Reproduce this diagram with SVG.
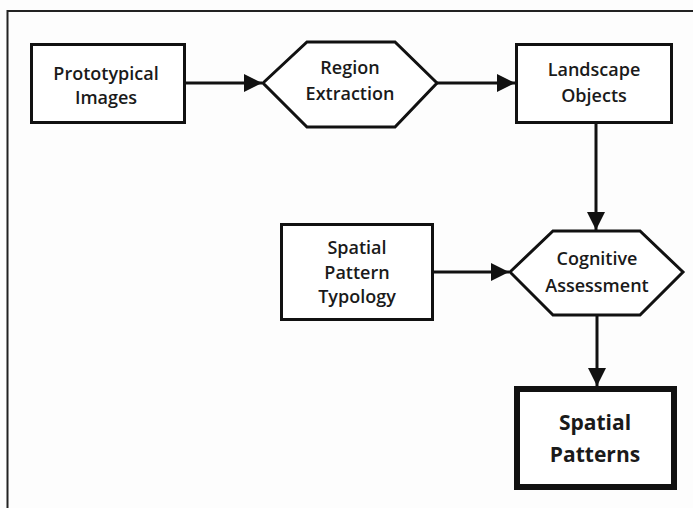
<svg xmlns="http://www.w3.org/2000/svg" width="693" height="508" viewBox="0 0 693 508">
<defs>
<style>
.box{fill:#ffffff;stroke:#111;stroke-width:3}
.bold{fill:#ffffff;stroke:#111;stroke-width:6}
.t{font-family:"Open Sans","Noto Sans",sans-serif;font-weight:600;font-size:18px;fill:#1a1a1a;text-anchor:middle}
.tb{font-family:"Open Sans","Noto Sans",sans-serif;font-weight:700;font-size:21px;fill:#1a1a1a;text-anchor:middle}
.c{stroke:#111;stroke-width:3;fill:none}
</style>
<marker id="ah" viewBox="0 0 10 10" refX="10" refY="5" markerWidth="6" markerHeight="6" markerUnits="strokeWidth" orient="auto">
<path d="M0,0 L10,5 L0,10 z" fill="#111"/>
</marker>
</defs>
<rect width="693" height="508" fill="#fdfdfd"/>
<path d="M7.5,508 V11 H693" fill="none" stroke="#222" stroke-width="2"/>
<g id="connectors">
<line class="c" x1="185" y1="83" x2="262" y2="83" marker-end="url(#ah)"/>
<line class="c" x1="437" y1="83" x2="515" y2="83" marker-end="url(#ah)"/>
<line class="c" x1="596" y1="123" x2="596" y2="230" marker-end="url(#ah)"/>
<line class="c" x1="433" y1="272" x2="509" y2="272" marker-end="url(#ah)"/>
<line class="c" x1="597" y1="315" x2="597" y2="386" marker-end="url(#ah)"/>
</g>
<g id="prototypical-images">
<rect class="box" x="31.5" y="44.5" width="153" height="78"/>
<text class="t" x="106" y="80">Prototypical</text>
<text class="t" x="106" y="104">Images</text>
</g>
<g id="region-extraction">
<polygon class="box" points="263,83 307,42 395,42 437,83 395,127 307,127"/>
<text class="t" x="350" y="74">Region</text>
<text class="t" x="350" y="100">Extraction</text>
</g>
<g id="landscape-objects">
<rect class="box" x="516.5" y="44.5" width="155" height="78"/>
<text class="t" x="594" y="76">Landscape</text>
<text class="t" x="594" y="102">Objects</text>
</g>
<g id="spatial-pattern-typology">
<rect class="box" x="281.5" y="224.5" width="151" height="95"/>
<text class="t" x="357" y="254">Spatial</text>
<text class="t" x="357" y="279">Pattern</text>
<text class="t" x="357" y="303">Typology</text>
</g>
<g id="cognitive-assessment">
<polygon class="box" points="510,272 553,231 640,231 683,272 640,315 553,315"/>
<text class="t" x="597" y="265">Cognitive</text>
<text class="t" x="597" y="292">Assessment</text>
</g>
<g id="spatial-patterns">
<rect class="bold" x="517" y="389" width="157" height="98"/>
<text class="tb" x="595" y="430">Spatial</text>
<text class="tb" x="595" y="462">Patterns</text>
</g>
</svg>
